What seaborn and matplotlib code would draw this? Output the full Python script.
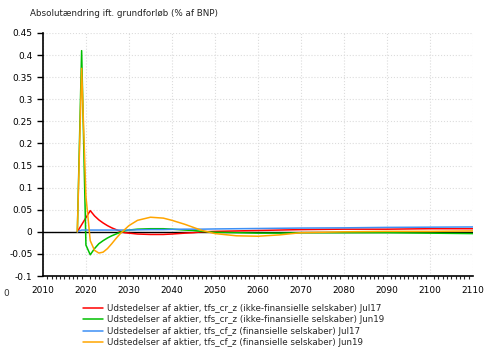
import matplotlib
matplotlib.use("Agg")
import matplotlib.pyplot as plt
import seaborn as sns
import pandas as pd
from matplotlib.ticker import MultipleLocator

years = [2018, 2019, 2020, 2021, 2022, 2023, 2024, 2025, 2026, 2027, 2028, 2029, 2030,
         2032, 2035, 2038, 2040, 2043, 2045, 2047, 2050, 2055, 2060, 2065, 2070,
         2080, 2090, 2100, 2110]

cr_jul17 = [0.0, 0.016, 0.032, 0.048, 0.036, 0.027, 0.020, 0.014, 0.009, 0.005, 0.001, -0.002, -0.003,
            -0.005, -0.006, -0.006, -0.005, -0.003, -0.002, 0.0, 0.001, 0.002, 0.003, 0.004, 0.005,
            0.006, 0.006, 0.007, 0.007]
cr_jun19 = [0.0, 0.41, -0.03, -0.052, -0.038, -0.027, -0.020, -0.014, -0.009, -0.005, -0.001, 0.002, 0.004,
            0.006, 0.007, 0.007, 0.006, 0.004, 0.003, 0.001, -0.001, -0.002, -0.003, -0.003, -0.002,
            -0.002, -0.002, -0.003, -0.004]
cf_jul17 = [0.0, 0.004, 0.004, 0.004, 0.004, 0.004, 0.004, 0.004, 0.004, 0.004, 0.004, 0.004, 0.004,
            0.0045, 0.005, 0.005, 0.0055, 0.006, 0.006, 0.006, 0.0065, 0.007, 0.0075, 0.008, 0.0085,
            0.009, 0.010, 0.0105, 0.011]
cf_jun19 = [0.0, 0.37, 0.08, -0.02, -0.042, -0.048, -0.046, -0.038, -0.027, -0.015, -0.004, 0.005, 0.014,
            0.026, 0.033, 0.031, 0.026, 0.017, 0.010, 0.003, -0.004, -0.009, -0.010, -0.007, -0.002,
            0.0, 0.001, 0.001, 0.002]

labels = [
    "Udstedelser af aktier, tfs_cr_z (ikke-finansielle selskaber) Jul17",
    "Udstedelser af aktier, tfs_cr_z (ikke-finansielle selskaber) Jun19",
    "Udstedelser af aktier, tfs_cf_z (finansielle selskaber) Jul17",
    "Udstedelser af aktier, tfs_cf_z (finansielle selskaber) Jun19",
]
colors = ["#ff0000", "#00c000", "#3d8ff5", "#ffa500"]
title = "Absolutændring ift. grundforløb (% af BNP)"

sns.set_style("white")
plt.rcParams['font.family'] = ['DejaVu Sans']

fig = plt.figure(figsize=(4.88, 3.47), dpi=100)
ax = fig.add_axes([0.088, 0.2046, 0.881, 0.7004])

for vals, lab, col in zip([cr_jul17, cr_jun19, cf_jul17, cf_jun19], labels, colors):
    df = pd.DataFrame({"year": years, "value": vals})
    sns.lineplot(data=df, x="year", y="value", ax=ax, color=col, label=lab, linewidth=1.1)

ax.axhline(0, color="black", linewidth=1.0, zorder=1)
ax.set_xlim(2010, 2110)
ax.set_ylim(-0.1, 0.45)
ax.xaxis.set_major_locator(MultipleLocator(10))
ax.xaxis.set_minor_locator(MultipleLocator(1))
ax.set_yticks([-0.1, -0.05, 0, 0.05, 0.1, 0.15, 0.2, 0.25, 0.3, 0.35, 0.4, 0.45])
ax.set_yticklabels(["-0.1", "-0.05", "0", "0.05", "0.1", "0.15", "0.2", "0.25", "0.3", "0.35", "0.4", "0.45"])
ax.grid(True, which="major", color="#dcdcdc", linestyle=":", linewidth=0.8)
ax.set_axisbelow(True)
for s in ["top", "right"]:
    ax.spines[s].set_visible(False)
for s in ["left", "bottom"]:
    ax.spines[s].set_color("black")
    ax.spines[s].set_linewidth(1.2)
ax.tick_params(axis="both", which="major", direction="out", length=4, width=1, labelsize=6.5, colors="black")
ax.tick_params(axis="x", which="minor", direction="out", length=2, width=0.8, bottom=True)
ax.tick_params(axis="y", which="both", left=True)
ax.set_xlabel("")
ax.set_ylabel("")

fig.text(0.061, 0.962, title, fontsize=6.3, color="#222222", va="center", ha="left")
fig.text(0.006, 0.155, "0", fontsize=6.5, color="#333333", va="center", ha="left")

handles, labs = ax.get_legend_handles_labels()
ax.legend_.remove()
fig.legend(handles, labs, loc="upper left", bbox_to_anchor=(0.17, 0.124), frameon=False,
           fontsize=6.3, handlelength=2.3, handletextpad=0.5, labelspacing=0.28,
           borderpad=0, borderaxespad=0)

fig.savefig("out.png", dpi=100)
